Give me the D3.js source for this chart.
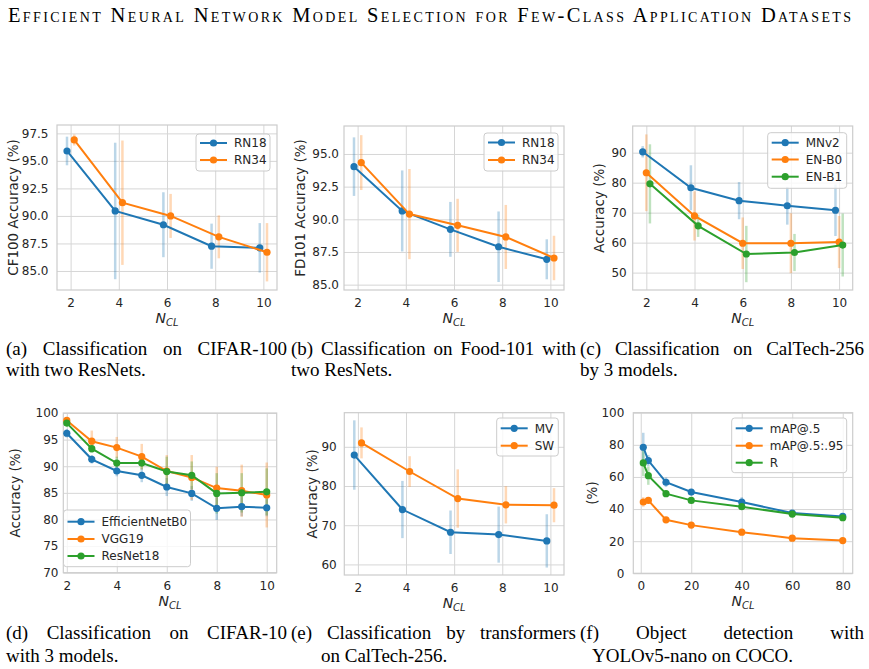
<!DOCTYPE html>
<html>
<head>
<meta charset="utf-8">
<script src="https://cdn.jsdelivr.net/npm/d3@7"></script>
<style>
body { margin: 0; background: #fff; }
svg text { font-family: "DejaVu Sans", sans-serif; }
.cap { font-family: "Liberation Serif", serif; fill: #000; }
</style>
</head>
<body>
<script>
// SVG size
var width = 869;
var height = 669;

// colours (matplotlib tab10)
var blue = '#1f77b4', orange = '#ff7f0e', green = '#2ca02c';

// ---- (a) CIFAR-100, two ResNets
var nclA = [2, 4, 6, 8, 10];
var cf100RN18 = [95.9, 90.45, 89.2, 87.25, 87.1];
var cf100RN18Err = [1.3, 6.2, 2.95, 2.05, 2.25];
var cf100RN34 = [96.9, 91.2, 90.0, 88.1, 86.7];
var cf100RN34Err = [0.5, 5.65, 2.0, 1.95, 2.65];
var yTicksA = [85.0, 87.5, 90.0, 92.5, 95.0, 97.5];

// ---- (b) Food-101, two ResNets
var nclB = [2, 4, 6, 8, 10];
var fd101RN18 = [94.03, 90.64, 89.23, 87.9, 86.94];
var fd101RN18Err = [2.24, 3.1, 2.1, 2.7, 1.53];
var fd101RN34 = [94.34, 90.4, 89.54, 88.65, 87.04];
var fd101RN34Err = [2.1, 3.45, 2.03, 2.45, 1.7];
var yTicksB = [85.0, 87.5, 90.0, 92.5, 95.0];

// ---- (c) CalTech-256, 3 models
var nclC = [2, 4, 6, 8, 10];
var ctMNv2 = [90.3, 78.3, 74.0, 72.3, 70.8];
var ctMNv2Err = [1.9, 7.5, 6.2, 6.3, 8.6];
var ctENB0 = [83.3, 68.9, 59.8, 59.8, 60.2];
var ctENB0Err = [12.8, 8.2, 8.6, 10.0, 8.7];
var ctENB1 = [79.6, 65.6, 56.2, 56.7, 59.2];
var ctENB1Err = [13.2, 3.7, 9.4, 6.2, 10.5];
var yTicksC = [50, 60, 70, 80, 90];

// ---- (d) CIFAR-10, 3 models
var nclD = [2, 3, 4, 5, 6, 7, 8, 9, 10];
var c10Eff = [96.2, 91.3, 89.1, 88.3, 86.1, 84.9, 82.1, 82.4, 82.2];
var c10EffErr = [0.8, 0.8, 1.0, 1.3, 1.7, 1.4, 2.2, 1.8, 1.6];
var c10VGG = [98.6, 94.7, 93.5, 91.8, 89.1, 87.9, 85.9, 85.4, 84.6];
var c10VGGErr = [0.5, 2.0, 2.0, 2.4, 3.0, 4.2, 4.0, 4.9, 6.1];
var c10Res = [98.1, 93.3, 90.6, 90.6, 89.0, 88.3, 84.9, 85.0, 85.2];
var c10ResErr = [0.6, 0.8, 1.2, 1.2, 2.8, 2.6, 3.8, 3.7, 4.4];
var yTicksD = [70, 75, 80, 85, 90, 95, 100];

// ---- (e) transformers on CalTech-256
var nclE = [2, 4, 6, 8, 10];
var trMV = [87.9, 74.0, 68.2, 67.6, 66.0];
var trMVErr = [8.85, 7.3, 5.55, 7.15, 6.8];
var trSW = [91.0, 83.7, 76.8, 75.2, 75.1];
var trSWErr = [3.95, 3.9, 7.45, 4.75, 4.35];
var yTicksE = [60, 70, 80, 90];

// ---- (f) YOLOv5-nano on COCO
var nclF = [1, 3, 10, 20, 40, 60, 80];
var yoloMap50 = [78.5, 70.2, 56.7, 50.6, 44.4, 37.5, 35.4];
var yoloMap50Err = [9, 3.5, 3, 1, 3, 1, 1];
var yoloMap5095 = [44.4, 45.4, 33.3, 30.0, 25.6, 21.9, 20.4];
var yoloMap5095Err = [3, 1.5, 1.5, 0.5, 1, 0.5, 0.5];
var yoloR = [68.75, 60.8, 49.6, 45.4, 41.5, 36.9, 34.6];
var yoloRErr = [8.3, 5.7, 2, 1, 1.5, 1, 1];
var yTicksF = [0, 20, 40, 60, 80, 100];

var xTicksSmall = [2, 4, 6, 8, 10];
var xTicksF = [0, 20, 40, 60, 80];

var svg = d3.select('body')
    .append('svg')
    .attr('width', width)
    .attr('height', height);

var tickSize = 12;
var legendSize = 12;

function drawPanel(p) {
    var x = d3.scaleLinear().domain(p.xDomain).range([p.left, p.right]);
    var y = d3.scaleLinear().domain(p.yDomain).range([p.bottom, p.top]);
    var g = svg.append('g');

    // x axis with grid lines
    var xAxis = d3.axisBottom(x)
        .tickValues(p.xTicks)
        .tickSize(-(p.bottom - p.top))
        .tickPadding(8.3)
        .tickFormat(d3.format('d'));
    var xg = g.append('g').attr('transform', 'translate(0,' + p.bottom + ')').call(xAxis);

    var yAxis = d3.axisLeft(y)
        .tickValues(p.yTicks)
        .tickSize(-(p.right - p.left))
        .tickPadding(p.yPad)
        .tickFormat(d3.format(p.yFormat));
    var yg = g.append('g').attr('transform', 'translate(' + p.left + ',0)').call(yAxis);

    [xg, yg].forEach(function(a) {
        a.select('.domain').remove();
        a.selectAll('line').attr('stroke', '#d6d6d6').attr('stroke-width', 1);
        a.selectAll('text')
            .attr('fill', '#262626')
            .attr('font-size', tickSize)
            .attr('font-family', '"DejaVu Sans", sans-serif');
    });

    // frame
    g.append('rect')
        .attr('x', p.left).attr('y', p.top)
        .attr('width', p.right - p.left).attr('height', p.bottom - p.top)
        .attr('fill', 'none')
        .attr('stroke', '#cccccc')
        .attr('stroke-width', 1.2);

    // series: error bars then line and markers
    p.series.forEach(function(s) {
        var pts = s.values.map(function(v, i) {
            return { x: p.x[i] + s.off, v: v, e: s.err[i] };
        });
        g.selectAll(null).data(pts).enter().append('line')
            .attr('x1', function(d) { return x(d.x); })
            .attr('x2', function(d) { return x(d.x); })
            .attr('y1', function(d) { return y(d.v - d.e); })
            .attr('y2', function(d) { return y(d.v + d.e); })
            .attr('stroke', s.color)
            .attr('stroke-opacity', 0.3)
            .attr('stroke-width', 2.5);
    });
    p.series.forEach(function(s) {
        var pts = s.values.map(function(v, i) {
            return { x: p.x[i] + s.off, v: v };
        });
        var line = d3.line()
            .x(function(d) { return x(d.x); })
            .y(function(d) { return y(d.v); });
        g.append('path')
            .datum(pts)
            .attr('d', line)
            .attr('fill', 'none')
            .attr('stroke', s.color)
            .attr('stroke-width', 2);
        g.selectAll(null).data(pts).enter().append('circle')
            .attr('cx', function(d) { return x(d.x); })
            .attr('cy', function(d) { return y(d.v); })
            .attr('r', 3.6)
            .attr('fill', s.color);
    });

    // legend
    var L = p.legend;
    g.append('rect')
        .attr('x', L.x).attr('y', L.y)
        .attr('width', L.w).attr('height', L.h)
        .attr('rx', 3)
        .attr('fill', '#fff').attr('fill-opacity', 0.8)
        .attr('stroke', '#cccccc').attr('stroke-width', 1);
    p.series.forEach(function(s, i) {
        var ry = L.rows[i];
        g.append('line')
            .attr('x1', L.x + 4).attr('x2', L.x + 31)
            .attr('y1', ry).attr('y2', ry)
            .attr('stroke', s.color).attr('stroke-width', 2);
        g.append('circle')
            .attr('cx', L.x + 17.5).attr('cy', ry).attr('r', 3.6)
            .attr('fill', s.color);
        g.append('text')
            .attr('x', L.x + 38).attr('y', ry)
            .attr('dy', '0.36em')
            .attr('fill', '#262626')
            .attr('font-size', legendSize)
            .text(s.name);
    });

    // axis labels
    var xl = g.append('text')
        .attr('x', (p.left + p.right) / 2)
        .attr('y', p.bottom + 33)
        .attr('text-anchor', 'middle')
        .attr('fill', '#262626')
        .attr('font-style', 'italic');
    xl.append('tspan').attr('font-size', 14).text('N');
    xl.append('tspan').attr('font-size', 10).attr('dy', 3).text('CL');

    g.append('text')
        .attr('transform', 'translate(' + p.yLabelX + ',' + ((p.top + p.bottom) / 2) + ') rotate(-90)')
        .attr('text-anchor', 'middle')
        .attr('dy', '0.36em')
        .attr('fill', '#262626')
        .attr('font-size', 13.5)
        .text(p.yLabel);
}

var d15 = [1.435, 10.565];

drawPanel({
    left: 57, top: 125, right: 277, bottom: 290,
    xDomain: d15, yDomain: [83.27, 98.26],
    xTicks: xTicksSmall, yTicks: yTicksA, yFormat: '.1f', yPad: 8.5,
    yLabel: 'CF100 Accuracy (%)', yLabelX: 13,
    x: nclA,
    series: [
        { name: 'RN18', values: cf100RN18, err: cf100RN18Err, color: blue, off: -0.15 },
        { name: 'RN34', values: cf100RN34, err: cf100RN34Err, color: orange, off: 0.15 }
    ],
    legend: { x: 196, y: 134, w: 74, h: 37, rows: [143, 160] }
});

drawPanel({
    left: 344, top: 126, right: 564, bottom: 290,
    xDomain: d15, yDomain: [84.59, 97.14],
    xTicks: xTicksSmall, yTicks: yTicksB, yFormat: '.1f', yPad: 5,
    yLabel: 'FD101 Accuracy (%)', yLabelX: 300,
    x: nclB,
    series: [
        { name: 'RN18', values: fd101RN18, err: fd101RN18Err, color: blue, off: -0.15 },
        { name: 'RN34', values: fd101RN34, err: fd101RN34Err, color: orange, off: 0.15 }
    ],
    legend: { x: 484, y: 133, w: 74, h: 38, rows: [142.5, 160] }
});

drawPanel({
    left: 632.7, top: 126, right: 852.7, bottom: 290,
    xDomain: d15, yDomain: [44.2, 98.9],
    xTicks: xTicksSmall, yTicks: yTicksC, yFormat: 'd', yPad: 6,
    yLabel: 'Accuracy (%)', yLabelX: 599.5,
    x: nclC,
    series: [
        { name: 'MNv2', values: ctMNv2, err: ctMNv2Err, color: blue, off: -0.15 },
        { name: 'EN-B0', values: ctENB0, err: ctENB0Err, color: orange, off: 0 },
        { name: 'EN-B1', values: ctENB1, err: ctENB1Err, color: green, off: 0.15 }
    ],
    legend: { x: 767.7, y: 132.7, w: 79, h: 55.6, rows: [142.7, 159.5, 176.7] }
});

drawPanel({
    left: 63.3, top: 413, right: 276.7, bottom: 572.7,
    xDomain: [1.86, 10.4], yDomain: [70, 100],
    xTicks: xTicksSmall, yTicks: yTicksD, yFormat: 'd', yPad: 4.8,
    yLabel: 'Accuracy (%)', yLabelX: 15,
    x: nclD,
    series: [
        { name: 'EfficientNetB0', values: c10Eff, err: c10EffErr, color: blue, off: 0 },
        { name: 'VGG19', values: c10VGG, err: c10VGGErr, color: orange, off: 0 },
        { name: 'ResNet18', values: c10Res, err: c10ResErr, color: green, off: 0 }
    ],
    legend: { x: 63.5, y: 510, w: 127, h: 56.7, rows: [521.7, 539, 556] }
});

drawPanel({
    left: 344.3, top: 412.7, right: 564, bottom: 575,
    xDomain: d15, yDomain: [57.3, 98.7],
    xTicks: xTicksSmall, yTicks: yTicksE, yFormat: 'd', yPad: 7.6,
    yLabel: 'Accuracy (%)', yLabelX: 311.7,
    x: nclE,
    series: [
        { name: 'MV', values: trMV, err: trMVErr, color: blue, off: -0.15 },
        { name: 'SW', values: trSW, err: trSWErr, color: orange, off: 0.15 }
    ],
    legend: { x: 496.7, y: 418, w: 61.6, h: 38, rows: [428.3, 445.7] }
});

drawPanel({
    left: 633.3, top: 412.7, right: 852.7, bottom: 573.3,
    xDomain: [-2.95, 83.95], yDomain: [0, 100],
    xTicks: xTicksF, yTicks: yTicksF, yFormat: 'd', yPad: 9,
    yLabel: '(%)', yLabelX: 591.7,
    x: nclF,
    series: [
        { name: 'mAP@.5', values: yoloMap50, err: yoloMap50Err, color: blue, off: 0 },
        { name: 'mAP@.5:.95', values: yoloMap5095, err: yoloMap5095Err, color: orange, off: 0 },
        { name: 'R', values: yoloR, err: yoloRErr, color: green, off: 0 }
    ],
    legend: { x: 731.7, y: 418, w: 115, h: 54.7, rows: [428.3, 445.7, 462.7] }
});

// title in small caps
svg.append('text')
    .attr('class', 'cap')
    .attr('x', 8)
    .attr('y', 22)
    .attr('font-size', 20.5)
    .style('font-variant', 'small-caps')
    .attr('textLength', 843)
    .attr('lengthAdjust', 'spacing')
    .text('Efficient Neural Network Model Selection for Few-Class Application Datasets');

// captions
var capSize = 19;

function justifyLine(text, x0, x1, yb) {
    var words = text.split(' ');
    var nodes = words.map(function(w) {
        return svg.append('text').attr('class', 'cap')
            .attr('y', yb).attr('font-size', capSize).text(w);
    });
    var widths = nodes.map(function(n) { return n.node().getComputedTextLength(); });
    var gap = (x1 - x0 - d3.sum(widths)) / (words.length - 1);
    var cx = x0;
    nodes.forEach(function(n, i) {
        n.attr('x', cx);
        cx += widths[i] + gap;
    });
}

function plainLine(text, x0, yb) {
    svg.append('text').attr('class', 'cap')
        .attr('x', x0).attr('y', yb)
        .attr('font-size', capSize)
        .text(text);
}

justifyLine('(a) Classification on CIFAR-100', 6, 287, 355);
plainLine('with two ResNets.', 6, 376);
justifyLine('(b) Classification on Food-101 with', 291, 576, 355);
plainLine('two ResNets.', 291, 376);
justifyLine('(c) Classification on CalTech-256', 580, 864, 355);
plainLine('by 3 models.', 580, 376);

justifyLine('(d) Classification on CIFAR-10', 6, 287, 639);
plainLine('with 3 models.', 6, 662);
justifyLine('(e) Classification by transformers', 291, 576, 639);
plainLine('on CalTech-256.', 321, 662);
justifyLine('(f) Object detection with', 580, 864, 639);
plainLine('YOLOv5-nano on COCO.', 592, 662);
</script>
</body>
</html>
